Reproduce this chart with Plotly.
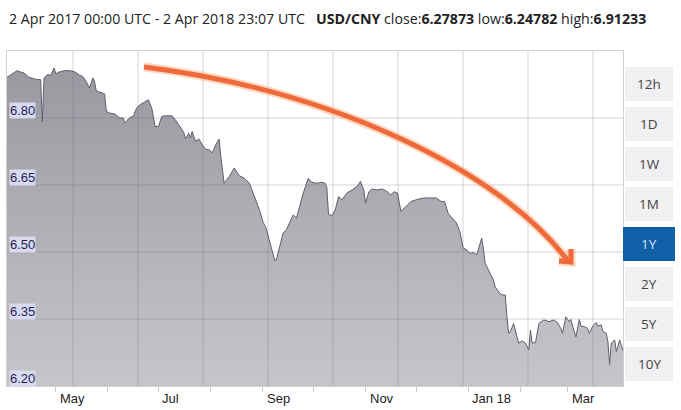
import plotly.graph_objects as go

# ---------------- data ----------------
dates = [
    "2017-04-02", "2017-04-08", "2017-04-10", "2017-04-12", "2017-04-15", "2017-04-18",
    "2017-04-20", "2017-04-22", "2017-04-23", "2017-04-24", "2017-04-26", "2017-04-28",
    "2017-04-30", "2017-05-01", "2017-05-03", "2017-05-06", "2017-05-09", "2017-05-12",
    "2017-05-15", "2017-05-17", "2017-05-19", "2017-05-21", "2017-05-22", "2017-05-23",
    "2017-05-24", "2017-05-25", "2017-05-27", "2017-05-29", "2017-05-30", "2017-05-31",
    "2017-06-02", "2017-06-05", "2017-06-08", "2017-06-10", "2017-06-11", "2017-06-14",
    "2017-06-16", "2017-06-18", "2017-06-20", "2017-06-22", "2017-06-25", "2017-06-27",
    "2017-06-29", "2017-07-01", "2017-07-03", "2017-07-06", "2017-07-09", "2017-07-11",
    "2017-07-14", "2017-07-16", "2017-07-17", "2017-07-19", "2017-07-20", "2017-07-21",
    "2017-07-23", "2017-07-25", "2017-07-27", "2017-07-29", "2017-07-31", "2017-08-02",
    "2017-08-04", "2017-08-06", "2017-08-07", "2017-08-09", "2017-08-12", "2017-08-15",
    "2017-08-18", "2017-08-21", "2017-08-24", "2017-08-26", "2017-08-28", "2017-08-30",
    "2017-09-01", "2017-09-03", "2017-09-04", "2017-09-06", "2017-09-08", "2017-09-09",
    "2017-09-11", "2017-09-13", "2017-09-15", "2017-09-17", "2017-09-19", "2017-09-21",
    "2017-09-23", "2017-09-25", "2017-09-28", "2017-09-30", "2017-10-03", "2017-10-06",
    "2017-10-08", "2017-10-09", "2017-10-10", "2017-10-12", "2017-10-14", "2017-10-16",
    "2017-10-18", "2017-10-21", "2017-10-24", "2017-10-27", "2017-10-29", "2017-10-31",
    "2017-11-01", "2017-11-03", "2017-11-05", "2017-11-08", "2017-11-11", "2017-11-14",
    "2017-11-16", "2017-11-18", "2017-11-20", "2017-11-22", "2017-11-24", "2017-11-26",
    "2017-11-28", "2017-12-02", "2017-12-06", "2017-12-10", "2017-12-13", "2017-12-16",
    "2017-12-18", "2017-12-20", "2017-12-22", "2017-12-25", "2017-12-27", "2017-12-29",
    "2017-12-31", "2018-01-02", "2018-01-04", "2018-01-06", "2018-01-07", "2018-01-09",
    "2018-01-10", "2018-01-11", "2018-01-13", "2018-01-15", "2018-01-16", "2018-01-17",
    "2018-01-19", "2018-01-21", "2018-01-23", "2018-01-24", "2018-01-25", "2018-01-26",
    "2018-01-28", "2018-01-30", "2018-01-31", "2018-02-02", "2018-02-04", "2018-02-06",
    "2018-02-07", "2018-02-08", "2018-02-10", "2018-02-12", "2018-02-15", "2018-02-18",
    "2018-02-21", "2018-02-23", "2018-02-25", "2018-02-26", "2018-02-28", "2018-03-02",
    "2018-03-03", "2018-03-04", "2018-03-06", "2018-03-08", "2018-03-09", "2018-03-11",
    "2018-03-13", "2018-03-14", "2018-03-16", "2018-03-18", "2018-03-19", "2018-03-21",
    "2018-03-22", "2018-03-24", "2018-03-25", "2018-03-26", "2018-03-27", "2018-03-29",
    "2018-03-30", "2018-04-01", "2018-04-02 23:07",
]
usd_cny = [
    6.891, 6.906, 6.903, 6.901, 6.891, 6.888,
    6.886, 6.886, 6.792, 6.890, 6.897, 6.896,
    6.912, 6.899, 6.903, 6.906, 6.906, 6.904,
    6.896, 6.893, 6.882, 6.867, 6.880, 6.890,
    6.882, 6.861, 6.858, 6.856, 6.854, 6.815,
    6.811, 6.809, 6.800, 6.800, 6.789, 6.801,
    6.804, 6.822, 6.830, 6.834, 6.841, 6.822,
    6.781, 6.781, 6.804, 6.805, 6.805, 6.796,
    6.778, 6.768, 6.753, 6.766, 6.755, 6.770,
    6.748, 6.753, 6.740, 6.730, 6.729, 6.722,
    6.740, 6.753, 6.714, 6.654, 6.669, 6.688,
    6.671, 6.665, 6.654, 6.635, 6.613, 6.594,
    6.568, 6.553, 6.538, 6.512, 6.482, 6.482,
    6.512, 6.542, 6.550, 6.568, 6.583, 6.576,
    6.606, 6.632, 6.665, 6.656, 6.654, 6.656,
    6.654, 6.645, 6.585, 6.581, 6.594, 6.624,
    6.617, 6.632, 6.639, 6.647, 6.658, 6.639,
    6.609, 6.635, 6.641, 6.639, 6.641, 6.635,
    6.628, 6.635, 6.632, 6.591, 6.598, 6.606,
    6.613, 6.618, 6.621, 6.621, 6.621, 6.613,
    6.613, 6.587, 6.579, 6.565, 6.546, 6.509,
    6.505, 6.497, 6.499, 6.494, 6.505, 6.531,
    6.509, 6.475, 6.460, 6.445, 6.437, 6.422,
    6.411, 6.404, 6.404, 6.355, 6.318, 6.322,
    6.340, 6.310, 6.296, 6.301, 6.296, 6.281,
    6.325, 6.296, 6.297, 6.340, 6.348, 6.344,
    6.348, 6.342, 6.329, 6.318, 6.355, 6.344,
    6.349, 6.334, 6.310, 6.349, 6.334, 6.333,
    6.329, 6.318, 6.334, 6.342, 6.334, 6.337,
    6.322, 6.318, 6.299, 6.248, 6.296, 6.303,
    6.277, 6.303, 6.279,
]

y_tick_values = [6.20, 6.35, 6.50, 6.65, 6.80]
y_tick_labels = ["6.20", "6.35", "6.50", "6.65", "6.80"]

month_ticks = ["2017-05-01", "2017-06-01", "2017-07-01", "2017-08-01", "2017-09-01",
               "2017-10-01", "2017-11-01", "2017-12-01", "2018-01-01", "2018-02-01",
               "2018-03-01"]
month_labels = ["May", "", "Jul", "", "Sep", "", "Nov", "", "Jan 18", "", "Mar"]

range_buttons = ["12h", "1D", "1W", "1M", "1Y", "2Y", "5Y", "10Y"]
active_button = "1Y"

header_text = ("2 Apr 2017 00:00 UTC - 2 Apr 2018 23:07 UTC&nbsp;&nbsp;&nbsp;"
               "<b>USD/CNY</b> close:<b>6.27873</b> low:<b>6.24782</b> high:<b>6.91233</b>")

# ---------------- layout helpers (pixel -> paper) ----------------
W, H = 681, 410
PL, PR, PT, PB = 7, 623, 51, 386


def px(x):
    return (x - PL) / (PR - PL)


def py(y):
    return (PB - y) / (PB - PT)


fig = go.Figure()
fig.add_trace(go.Scatter(
    x=dates, y=usd_cny, mode="lines",
    line=dict(color="#5d5f6c", width=1),
    fill="tozeroy",
    fillgradient=dict(type="vertical",
                      colorscale=[[0, "#c6c6ca"], [1, "#96969e"]],
                      start=6.20, stop=6.95),
    hoverinfo="x+y", showlegend=False,
))

shapes = []
grid_color = "rgba(95,95,125,0.27)"
# horizontal grid lines at the y ticks
for v in y_tick_values[1:]:
    shapes.append(dict(type="line", xref="paper", yref="y", x0=0, x1=1, y0=v, y1=v,
                       line=dict(color=grid_color, width=1), layer="above"))
# vertical grid lines (regular spacing, independent of dates)
gx = 73
while gx < PR:
    shapes.append(dict(type="line", xref="paper", yref="paper", x0=px(gx), x1=px(gx),
                       y0=0, y1=1, line=dict(color=grid_color, width=1), layer="above"))
    gx += 65

# hand drawn orange arrow (cubic curve + open head)
p0, p1, p2, p3 = (144, 67), (330, 90), (500, 170), (568, 261)
path = (f"M {px(p0[0]):.5f},{py(p0[1]):.5f} C {px(p1[0]):.5f},{py(p1[1]):.5f} "
        f"{px(p2[0]):.5f},{py(p2[1]):.5f} {px(p3[0]):.5f},{py(p3[1]):.5f}")
head = (f"M {px(571):.5f},{py(249):.5f} L {px(571):.5f},{py(262):.5f} "
        f"L {px(559):.5f},{py(261):.5f}")
for p in (path, head):
    shapes.append(dict(type="path", xref="paper", yref="paper", path=p,
                       line=dict(color="rgba(250,170,120,0.45)", width=9), layer="above"))
for p in (path, head):
    shapes.append(dict(type="path", xref="paper", yref="paper", path=p,
                       line=dict(color="#ee6a3b", width=5), layer="above"))

annotations = []
# y tick labels in lavender boxes
for v, t in zip(y_tick_values, y_tick_labels):
    annotations.append(dict(xref="paper", yref="y", x=0, y=v, xanchor="left",
                            yanchor="bottom", xshift=2, yshift=-1, text=t, showarrow=False,
                            bgcolor="#dadaee", borderpad=0,
                            font=dict(family="Liberation Sans, Arial", size=13,
                                      color="#1e1e58")))
# x tick labels, left aligned after the month tick
for d, t in zip(month_ticks, month_labels):
    if t:
        annotations.append(dict(xref="x", yref="paper", x=d, y=0, xanchor="left",
                                yanchor="top", xshift=2, yshift=-3, text=t,
                                showarrow=False,
                                font=dict(family="Liberation Sans, Arial", size=13,
                                          color="#222222")))

# range buttons on the right
for i, b in enumerate(range_buttons):
    top = 67 + 40 * i
    bot = top + 34
    active = (b == active_button)
    x0, x1 = (623, 675) if active else (625, 673)
    shapes.append(dict(type="rect", xref="paper", yref="paper",
                       x0=px(x0), x1=px(x1), y0=py(bot), y1=py(top),
                       fillcolor="#1160a8" if active else "#f0f0f2",
                       line=dict(width=0), layer="above"))
    annotations.append(dict(xref="paper", yref="paper", x=px((x0 + x1) / 2),
                            y=py((top + bot) / 2), text=b, showarrow=False,
                            xanchor="center", yanchor="middle",
                            font=dict(family="Open Sans", size=13.5,
                                      color="#cfe4ff" if active else "#444444")))

# header
annotations.append(dict(xref="paper", yref="paper", x=px(7), y=py(19), xanchor="left",
                        yanchor="middle", text=header_text, showarrow=False,
                        font=dict(family="Open Sans", size=14.2, color="#222222")))

fig.update_layout(
    width=W, height=H,
    margin=dict(l=PL, r=W - PR, t=PT, b=H - PB, pad=0),
    paper_bgcolor="white", plot_bgcolor="white",
    shapes=shapes, annotations=annotations,
    showlegend=False,
    xaxis=dict(type="date", range=["2017-04-02", "2018-04-02 23:07"],
               tickvals=month_ticks, ticktext=month_labels, showticklabels=False,
               ticks="outside", ticklen=5, tickcolor="#c8c8cc",
               showgrid=False, zeroline=False,
               showline=True, linecolor="#d0d0d6", mirror=True),
    yaxis=dict(range=[6.20, 6.95], showticklabels=False, showgrid=False,
               zeroline=False, showline=True, linecolor="#d0d0d6", mirror=True),
)

fig.write_html("out.html", config={"displayModeBar": False},
               post_script="document.body.style.margin='0';document.body.style.overflow='hidden';")
